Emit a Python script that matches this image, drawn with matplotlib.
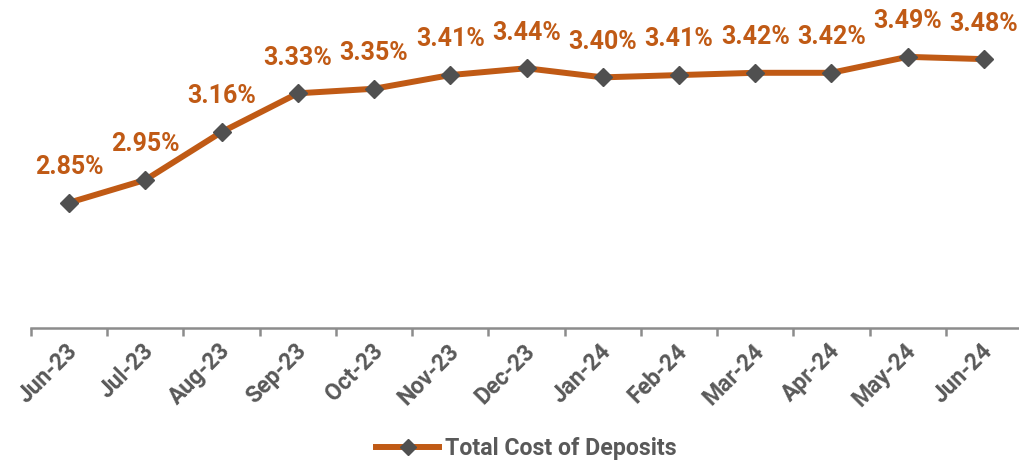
import matplotlib
matplotlib.use("Agg")
import matplotlib.pyplot as plt
import matplotlib.transforms as mtransforms
from matplotlib.lines import Line2D
import numpy as np

months = ["Jun-23", "Jul-23", "Aug-23", "Sep-23", "Oct-23", "Nov-23", "Dec-23",
          "Jan-24", "Feb-24", "Mar-24", "Apr-24", "May-24", "Jun-24"]
cost = [2.85, 2.95, 3.16, 3.33, 3.35, 3.41, 3.44, 3.40, 3.41, 3.42, 3.42, 3.49, 3.48]
series_name = "Total Cost of Deposits"

LINE = "#C05A15"
MARK = "#505050"
TXT = "#595959"

plt.rcParams['font.family'] = ['Roboto', 'DejaVu Sans']

fig = plt.figure(figsize=(10.19, 4.61), dpi=100)
ax = fig.add_axes([31/1019, 1-328/461, 991/1019, (328-9)/461])

x = np.arange(len(months))
ax.plot(x, cost, color=LINE, lw=4.3, marker='D', markersize=9.5,
        markerfacecolor=MARK, markeredgecolor=MARK, zorder=3)

for xi, v in zip(x, cost):
    ax.annotate(f"{v:.2f}%", (xi, v), xytext=(0, 17), textcoords='offset points',
                ha='center', va='bottom', fontsize=18, fontweight='bold', color=LINE)

ax.set_xlim(-0.5, len(months) - 0.5)
ax.set_ylim(2.30, 3.70)

for s in ['top', 'right', 'left']:
    ax.spines[s].set_visible(False)
ax.spines['bottom'].set_color('#8c8c8c')
ax.spines['bottom'].set_linewidth(1.8)
ax.set_yticks([])

ax.set_xticks(x)
ax.set_xticklabels(months, rotation=45, ha='right', va='center', rotation_mode='anchor',
                   fontsize=16.5, fontweight='bold', color=TXT)
ax.tick_params(axis='x', which='major', length=0, pad=14)
offset = mtransforms.ScaledTranslation(5/100, 0, fig.dpi_scale_trans)
for lab in ax.get_xticklabels():
    lab.set_transform(lab.get_transform() + offset)
ax.set_xticks(np.arange(-0.5, len(months), 1.0), minor=True)
ax.tick_params(axis='x', which='minor', length=6, width=1.8, color='#8c8c8c', direction='out')

handle = Line2D([], [], color=LINE, lw=4.3, marker='D', markersize=8,
                markerfacecolor=MARK, markeredgecolor=MARK)
leg = ax.legend([handle], [series_name], loc='center', bbox_to_anchor=(0.5, -0.375 - 1/319),
                frameon=False, handlelength=2.7, handletextpad=0.25,
                borderpad=0.0,
                prop={'family': 'Roboto', 'weight': 'bold', 'size': 16.7})
for t in leg.get_texts():
    t.set_color(TXT)

fig.savefig("out.png", dpi=100)
